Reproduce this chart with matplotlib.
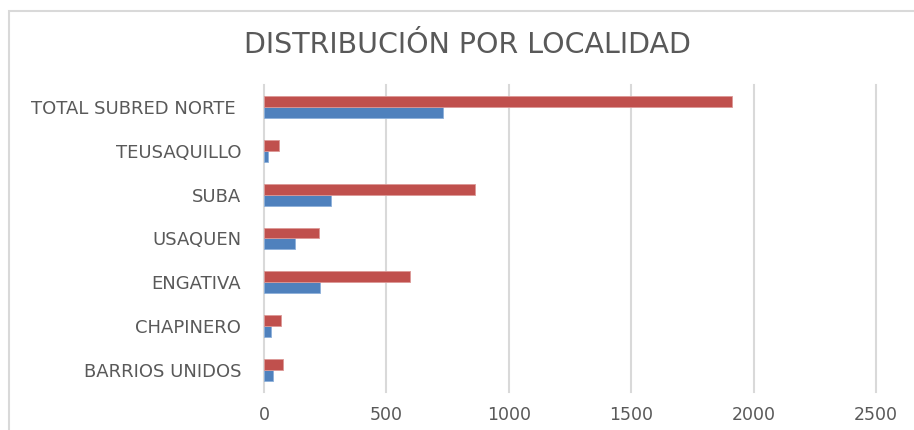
import numpy as np
from matplotlib import pyplot as plt
from matplotlib.patches import Rectangle
import matplotlib as mpl

mpl.rcParams.update({'font.family': ['DejaVu Sans'],
                     'font.size': 12})

# localidades, bottom to top as drawn
localidades = ['BARRIOS UNIDOS', 'CHAPINERO', 'ENGATIVA', 'USAQUEN',
               'SUBA', 'TEUSAQUILLO', 'TOTAL SUBRED NORTE ']
serie_azul = [37, 28, 228, 127, 273, 16, 731]
serie_roja = [78, 69, 597, 225, 862, 61, 1912]
x_ticks = [0, 500, 1000, 1500, 2000, 2500]

gris = '#595959'
fig = plt.figure(figsize=(9.14, 4.3), dpi=100)
ax = fig.add_axes([0.2888, 0.0884, 0.6696, 0.7139])

y = np.arange(len(localidades))
h = 0.25
ax.barh(y - h / 2, serie_azul, height=h, color='#4F81BD', edgecolor='#8DB0DA', linewidth=0.6)
ax.barh(y + h / 2, serie_roja, height=h, color='#C0504D', edgecolor='#DC9896', linewidth=0.6)

ax.set_xlim(0, 2500)
ax.set_ylim(-0.5, len(localidades) - 0.5)
ax.set_xticks(x_ticks)
ax.set_yticks(y)
ax.set_yticklabels(localidades)
ax.tick_params(axis='x', length=0, colors=gris, labelsize=12.5, pad=10)
ax.tick_params(axis='y', length=0, colors=gris, labelsize=13, pad=16.5)
ax.grid(axis='x', color='#D9D9D9', linewidth=1.5)
for gl in ax.get_xgridlines():
    gl.set_clip_on(False)
ax.set_axisbelow(True)
for s in ax.spines.values():
    s.set_visible(False)

fig.text(0.5115, 0.895, 'DISTRIBUCIÓN POR LOCALIDAD', ha='center', va='center',
         fontsize=20.5, color=gris)

# chart border (only top and left visible in the crop)
fig.patches.append(Rectangle((9, -20), 1000, 430 - 11 + 20, transform=None,
                             fill=False, edgecolor='#D9D9D9', linewidth=1.5))

fig.savefig('out.png', dpi=100)
